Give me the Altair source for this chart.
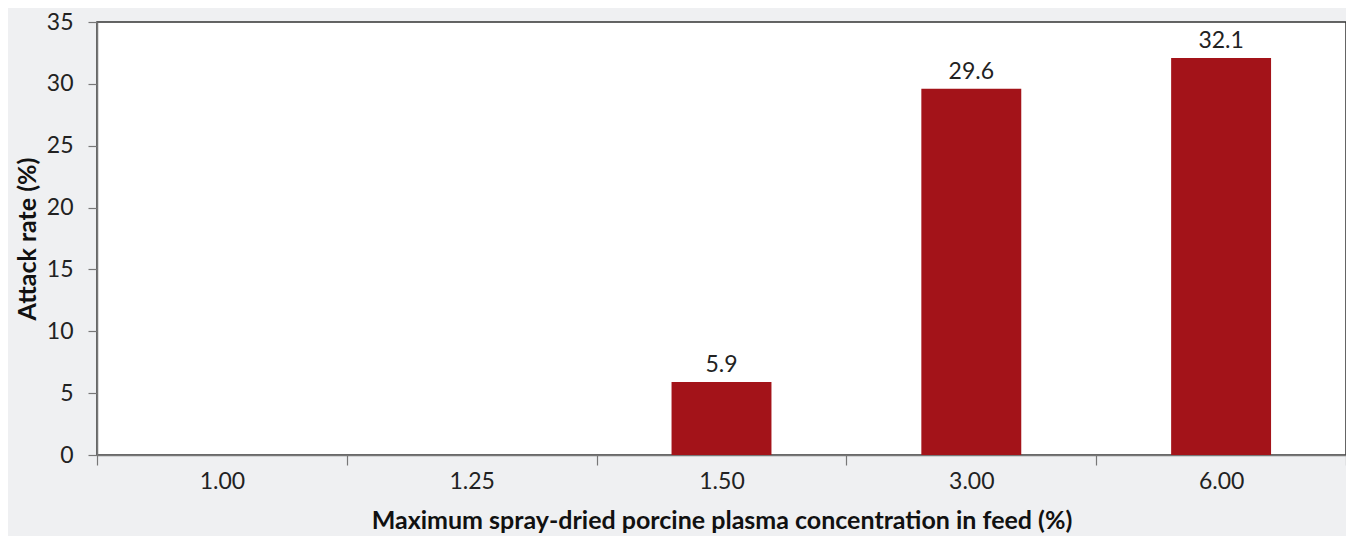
import altair as alt
import pandas as pd

concentrations = ["1.00", "1.25", "1.50", "3.00", "6.00"]
attack_rates = [0.0, 0.0, 5.9, 29.6, 32.1]
value_labels = ["", "", "5.9", "29.6", "32.1"]

df = pd.DataFrame({"conc": concentrations, "rate": attack_rates, "label": value_labels})

FONT = "Lato"

x = alt.X("conc:N", sort=concentrations,
          scale=alt.Scale(paddingInner=0, paddingOuter=0),
          axis=alt.Axis(title="Maximum spray-dried porcine plasma concentration in feed (%)",
                        labelAngle=0, tickBand="extent", tickSize=10,
                        labelPadding=5, titlePadding=15))
y = alt.Y("rate:Q", scale=alt.Scale(domain=[0, 35], nice=False),
          axis=alt.Axis(title="Attack rate (%)", values=[0, 5, 10, 15, 20, 25, 30, 35],
                        tickSize=9, labelPadding=15, titlePadding=6, grid=False))

bars = alt.Chart(df).mark_bar(color="#a31319", width=alt.RelativeBandSize(0.4)).encode(x=x, y=y)
text = alt.Chart(df).transform_filter("datum.rate > 0").mark_text(
    baseline="bottom", dy=-5, fontSize=23, font=FONT, color="#222222"
).encode(x=alt.X("conc:N", sort=concentrations), y="rate:Q", text="label:N")

chart = (bars + text).properties(
    width=1249, height=433,
    background="#eff0f2",
    padding={"left": 89, "top": 14, "right": 0, "bottom": 81},
    autosize=alt.AutoSizeParams(type="none"),
).configure_view(
    fill="white", stroke="#333333", strokeWidth=1.5
).configure_axis(
    labelFont=FONT, titleFont=FONT, labelFontSize=23, titleFontSize=25,
    labelColor="#222222", titleColor="#111111", titleFontWeight="bold",
    domainColor="#777777", tickColor="#777777", domainWidth=1.5, tickWidth=1.2,
)

chart.save("out.html", embed_options={"renderer": "svg", "actions": False})
